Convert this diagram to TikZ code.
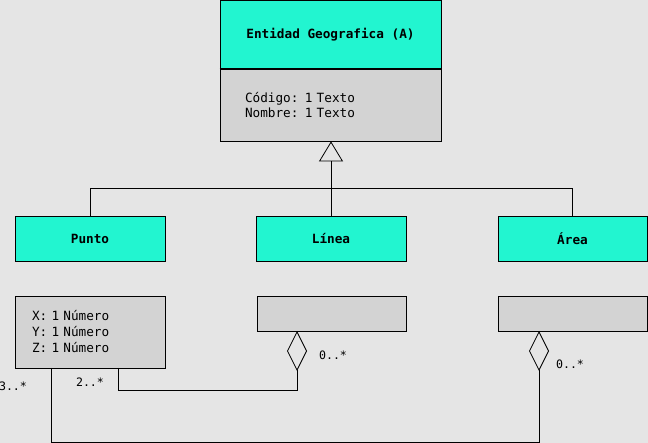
\documentclass[tikz,border=0pt]{standalone}
\usepackage{fontspec}
\newfontfamily\mono{DejaVu Sans Mono}
\usetikzlibrary{arrows.meta}
\definecolor{cian}{RGB}{34,245,208}
\definecolor{gris}{RGB}{211,211,211}
\definecolor{fondo}{RGB}{229,229,229}
\tikzset{
	clase/.style={draw, fill=cian, font=\mono\bfseries\fontsize{12.7}{15}\selectfont, minimum width=150pt, minimum height=45pt, inner sep=0pt},
	atrib/.style={draw, fill=gris, font=\mono\fontsize{12.7}{15}\selectfont, align=left, inner ysep=0pt},
	card/.style={font=\mono\fontsize{11.6}{14}\selectfont, inner sep=0pt},
	herencia/.style={-{Triangle[open,length=20pt,width=24pt,fill=fondo]}},
	agrega/.style={-{Diamond[open,length=40pt,width=20pt,fill=fondo]}}
}
\begin{document}
\begin{tikzpicture}[x=1pt,y=-1pt,line width=0.8pt]
	\fill[fondo] (0,0) rectangle (648,443);
	\useasboundingbox (0,0) rectangle (648,443);
	
	\node[clase, minimum width=221pt, minimum height=69pt] (gtit) at (330.5,34.5) {Entidad Geografica (A)};
	\node[atrib, text width=171pt, inner xsep=25pt, minimum height=72pt] (gattr) at (330.5,105) {Código: 1 Texto\\Nombre: 1 Texto};
	\draw[line width=2pt] (gtit.south west) -- (gtit.south east);
	
	\node[clase] (punto) at (90,238.5) {Punto};
	\node[clase] (linea) at (331,238.5) {Línea};
	\node[clase, minimum width=149pt] (area) at (572.5,238.5) {Área};
	
	\node[atrib, text width=116pt, inner xsep=17pt, minimum height=72pt, font=\mono\fontsize{12.7}{16}\selectfont] (pattr) at (90,332) {X: 1 Número\\Y: 1 Número\\Z: 1 Número};
	\node[atrib, minimum width=149pt, minimum height=35pt] (lattr) at (331.5,313.5) {};
	\node[atrib, minimum width=149pt, minimum height=35pt] (aattr) at (572.5,313.5) {};
	
	\draw[herencia] (linea.north) -- (linea.north |- gattr.south);
	\draw (punto.north) -- ++(0,-27) -| (area.north);
	
	\coordinate (p2) at (118,368);
	\coordinate (l2) at (297,331);
	\coordinate (p3) at (51,368);
	\coordinate (a3) at (539,331);
	\draw[agrega] (p2) -- ++(0,22) -| (l2);
	\draw[agrega] (p3) -- ++(0,74) -| (a3);
	
	\node[card] (c2) at (90,382) {2..*};
	\node[card] (c3) at (13,386) {3..*};
	\node[card] (c0l) at (333,355) {0..*};
	\node[card] (c0a) at (570,364) {0..*};
\end{tikzpicture}
\end{document}
